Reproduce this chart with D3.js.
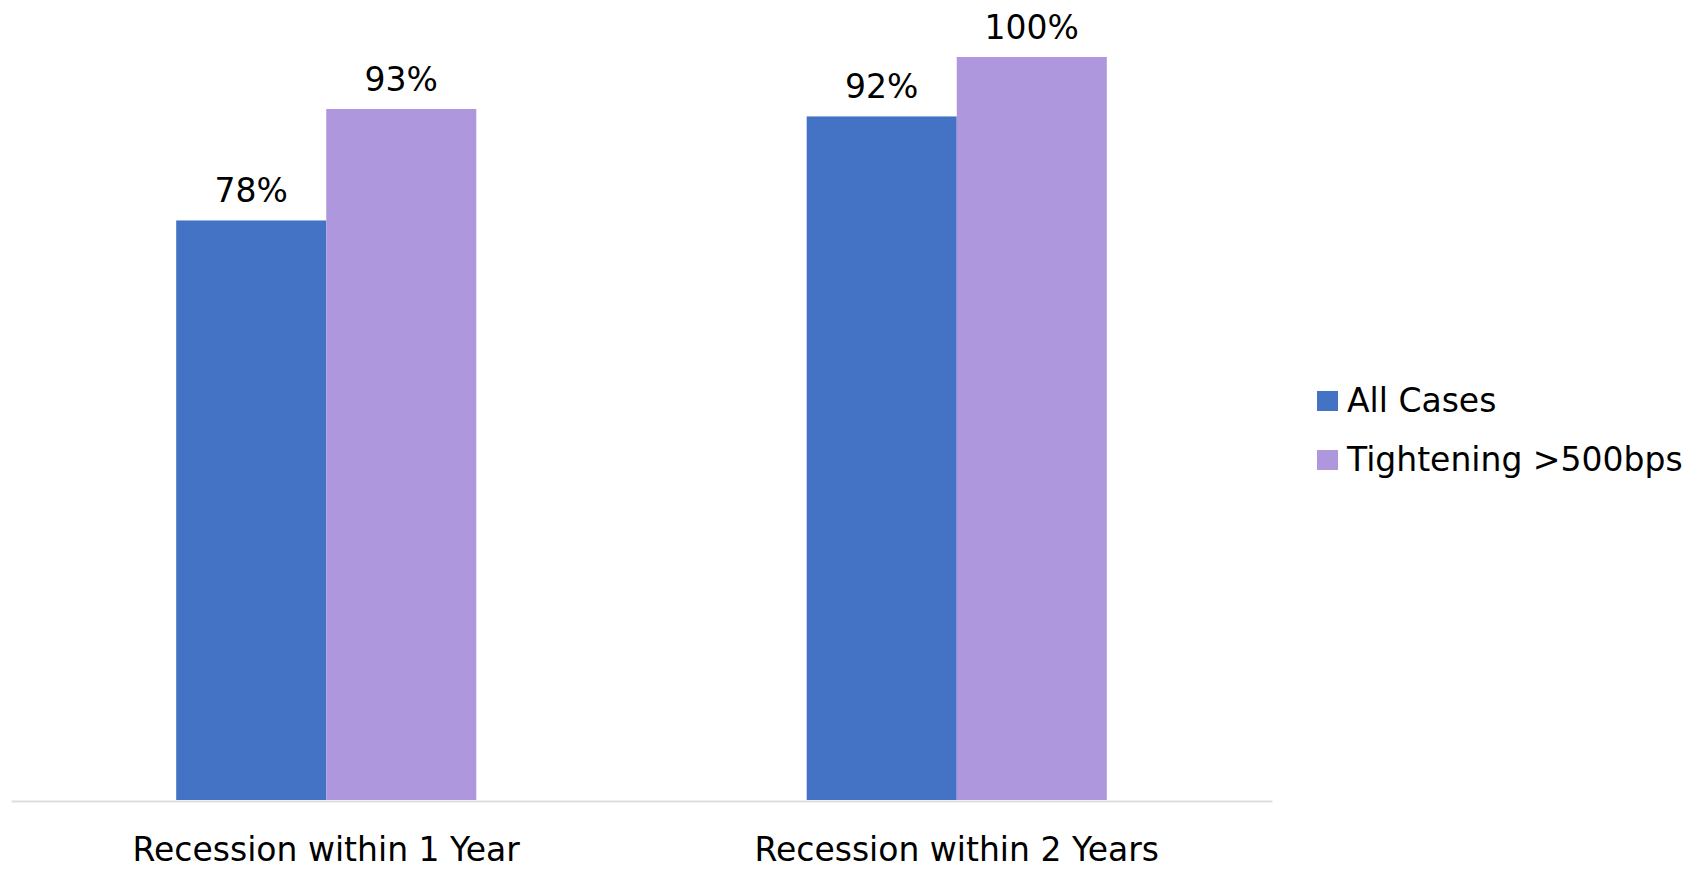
<!DOCTYPE html>
<html>
<head>
<meta charset="utf-8">
<script src="https://cdn.jsdelivr.net/npm/d3@7"></script>
<style>
  body { margin: 0; background: #fff; }
  text { font-family: "DejaVu Sans", Verdana, sans-serif; fill: #000; }
</style>
</head>
<body>
<svg id="chart" width="1700" height="870"></svg>
<script>
// data
const categories = ['Recession within 1 Year', 'Recession within 2 Years'];
const seriesNames = ['All Cases', 'Tightening >500bps'];
const allCases = [0.78, 0.92];
const tightening = [0.93, 1.00];

const colors = ['#4472c4', '#ae97dd'];

const svg = d3.select('#chart');

const margin = {top: 57, left: 11, right: 428, bottom: 70},
    width = 1700, height = 870,
    baseY = height - margin.bottom;

// table built from the arrays
const data = categories.map((c, i) => ({
  cat: c,
  values: [allCases[i], tightening[i]]
}));

// ---------- Scales
const x0 = d3.scaleBand()
  .domain(categories)
  .range([margin.left, width - margin.right])
  .paddingInner(0.524)
  .paddingOuter(0.262);

const x1 = d3.scaleBand()
  .domain(seriesNames)
  .range([0, x0.bandwidth()]);

const y = d3.scaleLinear()
  .domain([0, 1])
  .range([baseY, margin.top]);

const fmt = d3.format('.0%');

// ---------- bars
const groups = svg.selectAll('.grp')
  .data(data)
  .join('g')
    .attr('class', 'grp')
    .attr('transform', d => `translate(${x0(d.cat)},0)`);

groups.selectAll('rect')
  .data(d => d.values.map((v, i) => ({name: seriesNames[i], v: v, i: i})))
  .join('rect')
    .attr('x', d => x1(d.name))
    .attr('y', d => y(d.v))
    .attr('width', x1.bandwidth())
    .attr('height', d => baseY - y(d.v))
    .attr('fill', d => colors[d.i]);

groups.selectAll('.lbl')
  .data(d => d.values.map((v, i) => ({name: seriesNames[i], v: v})))
  .join('text')
    .attr('class', 'lbl')
    .attr('x', d => x1(d.name) + x1.bandwidth() / 2)
    .attr('y', d => y(d.v) - 18)
    .attr('text-anchor', 'middle')
    .style('font-size', '33px')
    .text(d => fmt(d.v));

// ---------- X axis
const xAxis = svg.append('g')
  .attr('transform', `translate(0,${baseY + 1})`)
  .call(d3.axisBottom(x0).tickSize(0).tickPadding(0));

xAxis.select('.domain')
  .attr('stroke', '#dedede')
  .attr('stroke-width', 2);

xAxis.selectAll('.tick text')
  .attr('dy', null)
  .attr('y', 60)
  .style('font-size', '33px')
  .style('font-family', '"DejaVu Sans", Verdana, sans-serif')
  .attr('fill', '#000');

// ---------- legend
const legend = svg.append('g')
  .attr('transform', 'translate(1317,391)');

const item = legend.selectAll('g')
  .data(seriesNames)
  .join('g')
    .attr('transform', (d, i) => `translate(0,${i * 59})`);

item.append('rect')
  .attr('width', 21)
  .attr('height', 20)
  .attr('fill', (d, i) => colors[i]);

item.append('text')
  .attr('x', 30)
  .attr('y', 21)
  .style('font-size', '33px')
  .text(d => d);
</script>
</body>
</html>
